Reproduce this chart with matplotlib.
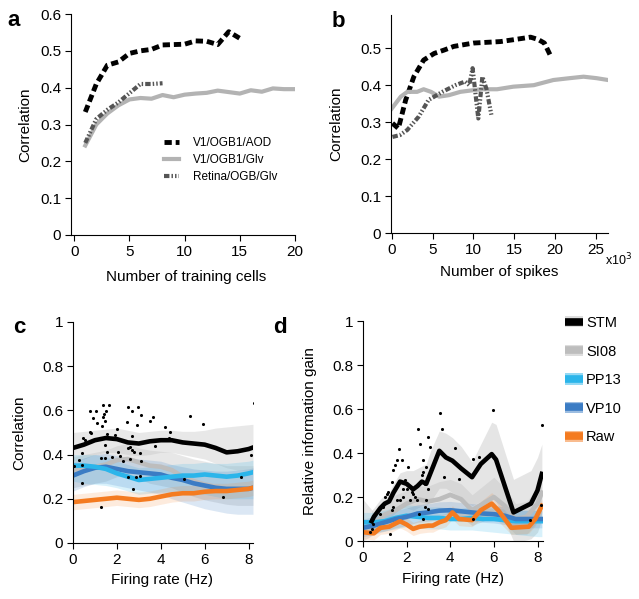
import matplotlib
matplotlib.use("Agg")
import matplotlib.pyplot as plt
from matplotlib.patches import Patch
from matplotlib.lines import Line2D

plt.rcParams['font.family'] = ['Liberation Sans', 'DejaVu Sans']

#   panel a: correlation vs number of training cells

cells_aod = [1, 2, 3, 4, 5, 6, 7, 8, 9, 10, 11, 12, 13, 14, 15]
corr_aod = [0.334, 0.41, 0.461, 0.47, 0.493, 0.50, 0.504, 0.516, 0.517, 0.518,
            0.527, 0.526, 0.517, 0.552, 0.534]
cells_glv = [1, 2, 3, 4, 5, 6, 7, 8, 9, 10, 11, 12, 13, 14, 15, 16, 17, 18, 19, 20]
corr_glv = [0.243, 0.30, 0.33, 0.352, 0.368, 0.372, 0.370, 0.38, 0.374, 0.381,
            0.384, 0.386, 0.392, 0.388, 0.384, 0.393, 0.389, 0.398, 0.396, 0.396]
cells_ret = [1, 2, 3, 4, 5, 6, 7, 8]
corr_ret = [0.25, 0.315, 0.34, 0.36, 0.385, 0.41, 0.41, 0.412]

#   panel b: correlation vs number of spikes (x10^3)

spk_aod = [0.08, 0.8, 1.7, 2.7, 3.9, 5.2, 6.4, 7.6, 10.0, 13.3, 14.9, 17.0, 17.9, 18.7, 19.4]
spkcorr_aod = [0.297, 0.283, 0.36, 0.423, 0.468, 0.486, 0.495, 0.505, 0.514, 0.518,
               0.523, 0.53, 0.524, 0.514, 0.482]
spk_glv = [0.0, 1.1, 1.9, 3.1, 3.9, 4.8, 5.8, 7.0, 8.4, 10.9, 12.9, 14.9, 17.4, 19.8,
           21.8, 23.5, 25.1, 26.5]
spkcorr_glv = [0.337, 0.369, 0.382, 0.382, 0.389, 0.382, 0.369, 0.373, 0.382, 0.389,
               0.389, 0.396, 0.40, 0.414, 0.419, 0.423, 0.419, 0.414]
spk_ret = [0.08, 1.0, 1.9, 3.3, 4.5, 6.2, 7.8, 9.0, 9.5, 9.9, 10.6, 11.1, 11.6, 12.2]
spkcorr_ret = [0.26, 0.265, 0.279, 0.315, 0.36, 0.382, 0.40, 0.41, 0.40, 0.446,
               0.31, 0.423, 0.39, 0.32]

#   panel c: correlation vs firing rate

rate_c = [0, 0.5, 1, 1.5, 2, 2.5, 3, 3.5, 4, 4.5, 5, 5.5, 6, 6.5, 7, 7.5, 8, 8.2]
stm_c = [0.43, 0.445, 0.465, 0.475, 0.47, 0.455, 0.45, 0.46, 0.465, 0.465, 0.455,
         0.45, 0.445, 0.43, 0.41, 0.415, 0.425, 0.432]
stm_c_hi = [0.50, 0.505, 0.51, 0.515, 0.52, 0.51, 0.50, 0.505, 0.51, 0.51, 0.505,
            0.505, 0.51, 0.52, 0.525, 0.53, 0.535, 0.537]
stm_c_lo = [0.37, 0.38, 0.40, 0.41, 0.41, 0.40, 0.395, 0.40, 0.41, 0.41, 0.40,
            0.39, 0.38, 0.36, 0.34, 0.33, 0.33, 0.33]
si08_c = [0.33, 0.34, 0.345, 0.355, 0.375, 0.38, 0.365, 0.35, 0.345, 0.33, 0.30,
          0.28, 0.265, 0.255, 0.245, 0.242, 0.242, 0.245]
si08_c_hi = [0.39, 0.40, 0.41, 0.42, 0.44, 0.45, 0.43, 0.42, 0.415, 0.41, 0.395,
             0.38, 0.37, 0.36, 0.35, 0.35, 0.35, 0.35]
si08_c_lo = [0.25, 0.26, 0.27, 0.28, 0.30, 0.31, 0.29, 0.27, 0.26, 0.25, 0.23,
             0.21, 0.195, 0.185, 0.175, 0.17, 0.17, 0.17]
pp13_c = [0.35, 0.35, 0.345, 0.335, 0.315, 0.30, 0.285, 0.29, 0.295, 0.30, 0.305,
          0.305, 0.31, 0.305, 0.30, 0.305, 0.315, 0.32]
pp13_c_hi = [0.40, 0.40, 0.40, 0.39, 0.37, 0.355, 0.34, 0.345, 0.35, 0.355, 0.36,
             0.36, 0.365, 0.36, 0.36, 0.365, 0.37, 0.375]
pp13_c_lo = [0.28, 0.27, 0.265, 0.26, 0.25, 0.235, 0.22, 0.225, 0.23, 0.23, 0.23,
             0.225, 0.22, 0.21, 0.20, 0.20, 0.20, 0.20]
vp10_c = [0.305, 0.325, 0.34, 0.345, 0.335, 0.325, 0.32, 0.315, 0.31, 0.295, 0.285,
          0.27, 0.26, 0.25, 0.245, 0.245, 0.245, 0.25]
vp10_c_hi = [0.365, 0.385, 0.40, 0.405, 0.395, 0.385, 0.38, 0.375, 0.37, 0.355, 0.345,
             0.335, 0.33, 0.325, 0.325, 0.33, 0.335, 0.34]
vp10_c_lo = [0.235, 0.255, 0.27, 0.27, 0.26, 0.25, 0.24, 0.23, 0.22, 0.20, 0.185,
             0.17, 0.155, 0.145, 0.135, 0.13, 0.13, 0.13]
raw_c = [0.185, 0.19, 0.195, 0.20, 0.205, 0.20, 0.195, 0.20, 0.21, 0.22, 0.225,
         0.225, 0.232, 0.235, 0.235, 0.24, 0.245, 0.25]
raw_c_hi = [0.22, 0.225, 0.23, 0.235, 0.24, 0.235, 0.23, 0.235, 0.245, 0.255, 0.26,
            0.26, 0.267, 0.27, 0.27, 0.275, 0.28, 0.285]
raw_c_lo = [0.15, 0.155, 0.16, 0.165, 0.17, 0.165, 0.16, 0.165, 0.175, 0.185, 0.19,
            0.19, 0.197, 0.20, 0.20, 0.205, 0.21, 0.215]

cell_rate_c = [0.77, 1.05, 1.35, 1.65, 1.5, 1.42, 1.38, 0.89, 1.08, 1.3, 1.45, 0.77,
               0.8, 0.47, 0.55, 1.9, 2.0, 1.53, 2.52, 2.67, 2.97, 3.08, 2.92, 2.47,
               3.5, 3.65, 2.71, 2.59, 2.52, 2.67, 2.77, 3.05, 3.12, 2.59, 2.14, 2.06,
               2.29, 1.45, 1.53, 1.76, 1.26, 1.45, 0.39, 0.29, 0.39, 0.05, 0.39, 1.26,
               2.52, 2.89, 3.05, 2.74, 4.18, 4.41, 4.38, 3.73, 5.32, 5.92, 5.05, 6.83,
               7.67, 8.12, 8.23, 1.83]
cell_corr_c = [0.597, 0.598, 0.624, 0.623, 0.598, 0.584, 0.569, 0.564, 0.541, 0.529,
               0.553, 0.504, 0.496, 0.474, 0.466, 0.489, 0.514, 0.492, 0.614, 0.598,
               0.617, 0.579, 0.534, 0.549, 0.554, 0.569, 0.486, 0.436, 0.428, 0.421,
               0.41, 0.406, 0.373, 0.379, 0.394, 0.413, 0.373, 0.443, 0.413, 0.39,
               0.383, 0.383, 0.406, 0.376, 0.353, 0.348, 0.27, 0.162, 0.297, 0.297,
               0.303, 0.244, 0.526, 0.504, 0.474, 0.439, 0.575, 0.539, 0.288, 0.207,
               0.30, 0.398, 0.635, 0.469]

#   panel d: relative information gain vs firing rate

rate_stm_d = [0.4, 0.5, 0.8, 1.0, 1.2, 1.4, 1.7, 2.0, 2.3, 2.5, 2.7, 2.9, 3.1, 3.5,
              3.8, 4.1, 4.5, 5.0, 5.4, 5.9, 6.1, 6.9, 7.3, 7.7, 8.0, 8.2]
stm_d = [0.09, 0.11, 0.15, 0.17, 0.18, 0.22, 0.27, 0.26, 0.235, 0.25, 0.27, 0.26,
         0.31, 0.41, 0.38, 0.365, 0.33, 0.29, 0.35, 0.395, 0.37, 0.13, 0.15, 0.17,
         0.23, 0.305]
stm_d_hi = [0.14, 0.15, 0.19, 0.21, 0.22, 0.26, 0.31, 0.32, 0.32, 0.33, 0.34, 0.35,
            0.41, 0.50, 0.49, 0.47, 0.43, 0.36, 0.44, 0.54, 0.53, 0.28, 0.30, 0.32,
            0.38, 0.44]
stm_d_lo = [0.04, 0.05, 0.08, 0.10, 0.10, 0.12, 0.15, 0.15, 0.14, 0.15, 0.16, 0.16,
            0.18, 0.24, 0.24, 0.22, 0.20, 0.16, 0.18, 0.20, 0.18, 0.0, 0.0, 0.01,
            0.04, 0.10]
rate_d = [0, 0.5, 1, 1.5, 2, 2.5, 3, 3.5, 4, 4.5, 5, 5.5, 6, 6.5, 7, 7.5, 8, 8.2]
si08_d = [0.05, 0.08, 0.12, 0.14, 0.17, 0.19, 0.18, 0.19, 0.21, 0.19, 0.14, 0.17,
          0.20, 0.16, 0.10, 0.11, 0.17, 0.22]
si08_d_hi = [0.19, 0.13, 0.18, 0.21, 0.23, 0.25, 0.25, 0.27, 0.28, 0.26, 0.21, 0.25,
             0.29, 0.24, 0.17, 0.18, 0.24, 0.29]
si08_d_lo = [0.0, 0.03, 0.06, 0.08, 0.10, 0.12, 0.11, 0.11, 0.13, 0.11, 0.07, 0.09,
             0.11, 0.08, 0.03, 0.03, 0.09, 0.15]
pp13_d = [0.085, 0.085, 0.09, 0.105, 0.115, 0.11, 0.105, 0.105, 0.10, 0.10, 0.105,
          0.10, 0.10, 0.095, 0.09, 0.09, 0.09, 0.09]
pp13_d_hi = [0.13, 0.13, 0.14, 0.155, 0.165, 0.16, 0.155, 0.155, 0.15, 0.15, 0.155,
             0.15, 0.15, 0.145, 0.14, 0.14, 0.14, 0.14]
pp13_d_lo = [0.04, 0.04, 0.045, 0.055, 0.065, 0.06, 0.055, 0.055, 0.05, 0.05, 0.05,
             0.045, 0.04, 0.035, 0.03, 0.025, 0.02, 0.02]
vp10_d = [0.06, 0.07, 0.085, 0.10, 0.11, 0.125, 0.13, 0.138, 0.14, 0.135, 0.13,
          0.125, 0.122, 0.115, 0.10, 0.10, 0.10, 0.10]
vp10_d_hi = [0.10, 0.11, 0.125, 0.14, 0.15, 0.165, 0.17, 0.178, 0.18, 0.175, 0.17,
             0.165, 0.162, 0.155, 0.14, 0.14, 0.14, 0.14]
vp10_d_lo = [0.02, 0.03, 0.045, 0.06, 0.07, 0.085, 0.09, 0.098, 0.10, 0.095, 0.09,
             0.085, 0.082, 0.075, 0.06, 0.06, 0.06, 0.06]
rate_raw_d = [0, 0.5, 0.8, 1.2, 1.7, 2.0, 2.3, 2.6, 3.0, 3.2, 3.5, 3.8, 4.1, 4.4,
              5.0, 5.4, 5.9, 6.2, 6.8, 7.6, 7.9, 8.2]
raw_d = [0.04, 0.035, 0.06, 0.065, 0.09, 0.075, 0.055, 0.065, 0.07, 0.07, 0.085,
         0.095, 0.13, 0.10, 0.095, 0.14, 0.17, 0.14, 0.06, 0.065, 0.10, 0.16]
raw_d_hi = [0.07, 0.065, 0.09, 0.095, 0.12, 0.105, 0.085, 0.095, 0.10, 0.10, 0.115,
            0.125, 0.16, 0.13, 0.125, 0.18, 0.22, 0.19, 0.09, 0.095, 0.13, 0.19]
raw_d_lo = [0.01, 0.005, 0.03, 0.035, 0.06, 0.045, 0.025, 0.035, 0.04, 0.04, 0.055,
            0.065, 0.10, 0.07, 0.065, 0.10, 0.12, 0.09, 0.03, 0.035, 0.07, 0.13]

cell_rate_d = [0.33, 0.41, 0.48, 0.79, 0.91, 1.02, 1.09, 1.17, 1.32, 1.4, 1.47, 1.55,
               1.67, 1.78, 1.7, 1.24, 1.85, 1.93, 2.0, 2.08, 2.31, 2.38, 2.46, 2.53,
               2.61, 2.69, 2.76, 2.84, 2.91, 2.99, 3.07, 2.99, 3.52, 3.64, 3.7, 4.2,
               4.4, 5.04, 5.31, 5.95, 8.2, 8.15, 7.65, 5.04, 2.76, 1.55, 1.32, 0.94,
               1.4, 2.15, 2.23, 1.82, 1.09, 2.91, 2.76, 2.99, 2.58, 2.84]
cell_gain_d = [0.041, 0.056, 0.079, 0.124, 0.17, 0.20, 0.215, 0.223, 0.268, 0.321,
               0.344, 0.367, 0.42, 0.367, 0.185, 0.033, 0.20, 0.276, 0.238, 0.336,
               0.215, 0.20, 0.185, 0.511, 0.443, 0.299, 0.314, 0.261, 0.185, 0.473,
               0.427, 0.238, 0.582, 0.511, 0.291, 0.424, 0.283, 0.373, 0.382, 0.594,
               0.529, 0.162, 0.094, 0.102, 0.102, 0.185, 0.139, 0.155, 0.155, 0.185,
               0.223, 0.238, 0.177, 0.336, 0.367, 0.147, 0.124, 0.155]

model_names = ['STM', 'SI08', 'PP13', 'VP10', 'Raw']
model_colors = ['black', '#bdbdbd', '#2bb5ea', '#3b7cc4', '#f47b20']

#   helpers


def style_axis(ax):
    ax.spines['top'].set_visible(False)
    ax.spines['right'].set_visible(False)
    ax.tick_params(direction='out', length=4, width=0.8, labelsize=11, pad=3)
    for s in ['left', 'bottom']:
        ax.spines[s].set_linewidth(0.8)


def fmt(v):
    return '0' if v == 0 else ('1' if v == 1 else '%g' % v)


fig = plt.figure(figsize=(6.39, 5.99), dpi=100)

#   panel a

ax_a = fig.add_axes([0.111, 0.6077, 0.3506, 0.3689])
ax_a.plot(cells_aod, corr_aod, color='black', lw=3.5, dashes=(1.5, 0.8),
          label='V1/OGB1/AOD', solid_capstyle='butt')
ax_a.plot(cells_glv, corr_glv, color='#b3b3b3', lw=3, label='V1/OGB1/Glv')
ax_a.plot(cells_ret, corr_ret, color='#555555', lw=3,
          dashes=(1.3, 0.5, 0.35, 0.5, 0.35, 0.5), label='Retina/OGB/Glv')
ax_a.set_xlim(-0.3, 20)
ax_a.set_ylim(0, 0.6)
ax_a.set_xticks([0, 5, 10, 15, 20])
ax_a.set_yticks([0, 0.1, 0.2, 0.3, 0.4, 0.5, 0.6])
ax_a.set_yticklabels([fmt(v) for v in ax_a.get_yticks()])
style_axis(ax_a)
ax_a.set_xlabel('Number of training cells', fontsize=11)
ax_a.set_ylabel('Correlation', fontsize=11)
ax_a.xaxis.set_label_coords(0.516, -0.158)
ax_a.yaxis.set_label_coords(-0.174, 0.5)
ax_a.legend(loc='upper left', bbox_to_anchor=(0.415, 0.445), frameon=False,
            fontsize=8.5, handlelength=1.3, handletextpad=1.2, labelspacing=0.45,
            borderpad=0, borderaxespad=0)

#   panel b

ax_b = fig.add_axes([0.6119, 0.611, 0.3396, 0.364])
ax_b.plot(spk_aod, spkcorr_aod, color='black', lw=3.5, dashes=(1.5, 0.8))
ax_b.plot(spk_glv, spkcorr_glv, color='#b3b3b3', lw=3)
ax_b.plot(spk_ret, spkcorr_ret, color='#555555', lw=3,
          dashes=(1.3, 0.5, 0.35, 0.5, 0.35, 0.5))
ax_b.set_xlim(-0.1, 26.5)
ax_b.set_ylim(0, 0.59)
ax_b.set_xticks([0, 5, 10, 15, 20, 25])
ax_b.set_yticks([0, 0.1, 0.2, 0.3, 0.4, 0.5])
ax_b.set_yticklabels([fmt(v) for v in ax_b.get_yticks()])
style_axis(ax_b)
ax_b.set_xlabel('Number of spikes', fontsize=11)
ax_b.set_ylabel('Correlation', fontsize=11)
ax_b.xaxis.set_label_coords(0.498, -0.147)
ax_b.yaxis.set_label_coords(-0.221, 0.5)
ax_b.text(0.985, -0.085, r'x10$^3$', transform=ax_b.transAxes, fontsize=9,
          ha='left', va='top')

#   panel c

ax_c = fig.add_axes([0.1142, 0.0935, 0.2817, 0.369])
bands_c = [(stm_c, stm_c_lo, stm_c_hi), (si08_c, si08_c_lo, si08_c_hi),
           (pp13_c, pp13_c_lo, pp13_c_hi), (vp10_c, vp10_c_lo, vp10_c_hi),
           (raw_c, raw_c_lo, raw_c_hi)]
band_alpha = [0.35, 0.35, 0.18, 0.18, 0.15]
for (m, lo, hi), col, al in zip(bands_c, model_colors, band_alpha):
    fc = '#bfbfbf' if col == 'black' else col
    ax_c.fill_between(rate_c, lo, hi, color=fc, alpha=al, lw=0)

#   draw order: SI08 under the blues, STM on top
for i in [1, 3, 2, 4, 0]:
    ax_c.plot(rate_c, bands_c[i][0], color=model_colors[i], lw=3.3)
ax_c.scatter(cell_rate_c, cell_corr_c, s=5, color='black', zorder=5, lw=0)
ax_c.set_xlim(0, 8.2)
ax_c.set_ylim(0, 1)
ax_c.set_xticks([0, 2, 4, 6, 8])
ax_c.set_yticks([0, 0.2, 0.4, 0.6, 0.8, 1])
ax_c.set_yticklabels([fmt(v) for v in ax_c.get_yticks()])
style_axis(ax_c)
ax_c.set_xlabel('Firing rate (Hz)', fontsize=11)
ax_c.set_ylabel('Correlation', fontsize=11)
ax_c.xaxis.set_label_coords(0.494, -0.136)
ax_c.yaxis.set_label_coords(-0.26, 0.5)

#   panel d

ax_d = fig.add_axes([0.568, 0.0968, 0.2817, 0.3673])
ax_d.fill_between(rate_stm_d, stm_d_lo, stm_d_hi, color='#bfbfbf', alpha=0.4, lw=0)
ax_d.fill_between(rate_d, si08_d_lo, si08_d_hi, color='#bdbdbd', alpha=0.35, lw=0)
ax_d.fill_between(rate_d, pp13_d_lo, pp13_d_hi, color='#2bb5ea', alpha=0.18, lw=0)
ax_d.fill_between(rate_d, vp10_d_lo, vp10_d_hi, color='#3b7cc4', alpha=0.18, lw=0)
ax_d.fill_between(rate_raw_d, raw_d_lo, raw_d_hi, color='#f47b20', alpha=0.15, lw=0)
ax_d.plot(rate_d, si08_d, color='#bdbdbd', lw=3.3)
ax_d.plot(rate_d, pp13_d, color='#2bb5ea', lw=3.3)
ax_d.plot(rate_d, vp10_d, color='#3b7cc4', lw=3.3)
ax_d.plot(rate_raw_d, raw_d, color='#f47b20', lw=3.3)
ax_d.plot(rate_stm_d, stm_d, color='black', lw=3.3)
ax_d.scatter(cell_rate_d, cell_gain_d, s=5, color='black', zorder=5, lw=0)
ax_d.set_xlim(0, 8.25)
ax_d.set_ylim(0, 1)
ax_d.set_xticks([0, 2, 4, 6, 8])
ax_d.set_yticks([0, 0.2, 0.4, 0.6, 0.8, 1])
ax_d.set_yticklabels([fmt(v) for v in ax_d.get_yticks()])
style_axis(ax_d)
ax_d.set_xlabel('Firing rate (Hz)', fontsize=11)
ax_d.set_ylabel('Relative information gain', fontsize=11)
ax_d.xaxis.set_label_coords(0.5, -0.141)
ax_d.yaxis.set_label_coords(-0.255, 0.5)

#   legend for c and d

handles = []
for col in model_colors:
    fc = '#bfbfbf' if col == 'black' else col
    handles.append((Patch(facecolor=fc, alpha=0.5, lw=0),
                    Line2D([], [], color=col, lw=5.5, solid_capstyle='butt')))
fig.legend(handles, model_names, loc='upper left', bbox_to_anchor=(0.884, 0.4725),
           frameon=False, fontsize=10.5, handlelength=1.25, handleheight=0.8,
           handletextpad=0.2, labelspacing=1.0, borderpad=0, borderaxespad=0)

#   panel letters

for lab, x, y in [('a', 7, 26), ('b', 332, 27), ('c', 13, 333), ('d', 273, 333)]:
    fig.text(x / 639, 1 - y / 599, lab, fontsize=16, fontweight='bold',
             va='baseline', ha='left')

fig.savefig('out.png', dpi=100)
